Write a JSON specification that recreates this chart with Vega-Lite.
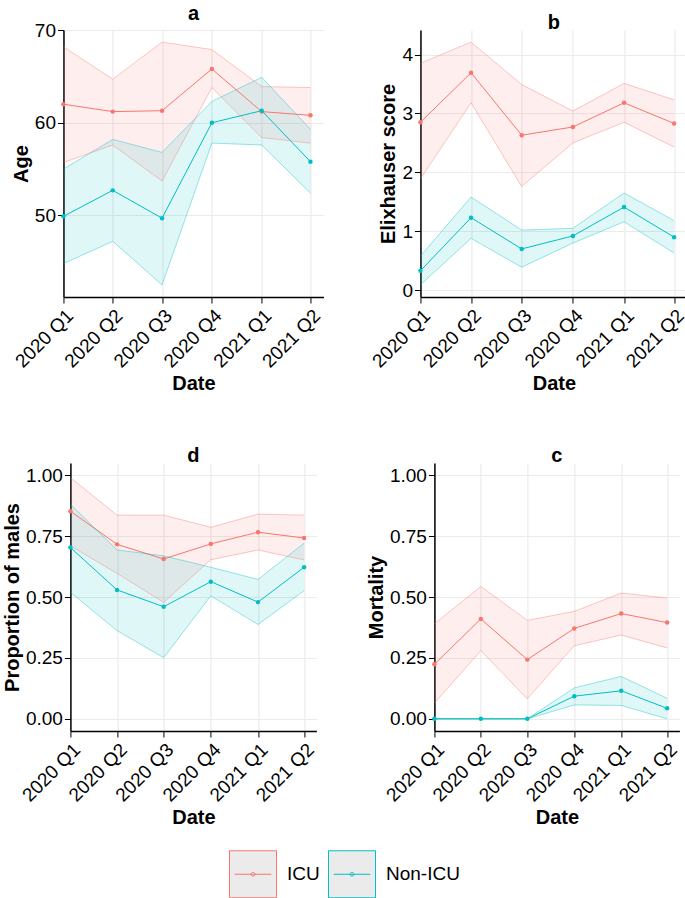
{
  "$schema": "https://vega.github.io/schema/vega-lite/v6.json",
  "padding": {"left": 2, "top": 4, "right": 0, "bottom": 1},
  "background": "white",
  "data": {"values": [
    {"panel":"a","group":"ICU","date":"2020/01/01","mean":62.0,"lower":55.7,"upper":68.2},
    {"panel":"a","group":"ICU","date":"2020/04/01","mean":61.2,"lower":57.6,"upper":64.7},
    {"panel":"a","group":"ICU","date":"2020/07/01","mean":61.3,"lower":53.7,"upper":68.7},
    {"panel":"a","group":"ICU","date":"2020/10/01","mean":65.8,"lower":63.8,"upper":67.9},
    {"panel":"a","group":"ICU","date":"2021/01/01","mean":61.2,"lower":58.4,"upper":63.9},
    {"panel":"a","group":"ICU","date":"2021/04/01","mean":60.8,"lower":57.8,"upper":63.8},
    {"panel":"a","group":"Non-ICU","date":"2020/01/01","mean":49.9,"lower":44.8,"upper":55.0},
    {"panel":"a","group":"Non-ICU","date":"2020/04/01","mean":52.7,"lower":47.2,"upper":58.2},
    {"panel":"a","group":"Non-ICU","date":"2020/07/01","mean":49.7,"lower":42.5,"upper":56.8},
    {"panel":"a","group":"Non-ICU","date":"2020/10/01","mean":60.0,"lower":57.8,"upper":62.3},
    {"panel":"a","group":"Non-ICU","date":"2021/01/01","mean":61.3,"lower":57.6,"upper":64.9},
    {"panel":"a","group":"Non-ICU","date":"2021/04/01","mean":55.8,"lower":52.4,"upper":59.3},
    {"panel":"b","group":"ICU","date":"2020/01/01","mean":2.85,"lower":1.89,"upper":3.85},
    {"panel":"b","group":"ICU","date":"2020/04/01","mean":3.69,"lower":3.18,"upper":4.21},
    {"panel":"b","group":"ICU","date":"2020/07/01","mean":2.63,"lower":1.76,"upper":3.49},
    {"panel":"b","group":"ICU","date":"2020/10/01","mean":2.77,"lower":2.50,"upper":3.04},
    {"panel":"b","group":"ICU","date":"2021/01/01","mean":3.18,"lower":2.85,"upper":3.51},
    {"panel":"b","group":"ICU","date":"2021/04/01","mean":2.83,"lower":2.43,"upper":3.23},
    {"panel":"b","group":"Non-ICU","date":"2020/01/01","mean":0.33,"lower":0.09,"upper":0.58},
    {"panel":"b","group":"Non-ICU","date":"2020/04/01","mean":1.23,"lower":0.88,"upper":1.58},
    {"panel":"b","group":"Non-ICU","date":"2020/07/01","mean":0.70,"lower":0.39,"upper":1.02},
    {"panel":"b","group":"Non-ICU","date":"2020/10/01","mean":0.92,"lower":0.80,"upper":1.05},
    {"panel":"b","group":"Non-ICU","date":"2021/01/01","mean":1.41,"lower":1.16,"upper":1.65},
    {"panel":"b","group":"Non-ICU","date":"2021/04/01","mean":0.90,"lower":0.63,"upper":1.18},
    {"panel":"d","group":"ICU","date":"2020/01/01","mean":0.852,"lower":0.71,"upper":0.99},
    {"panel":"d","group":"ICU","date":"2020/04/01","mean":0.716,"lower":0.597,"upper":0.836},
    {"panel":"d","group":"ICU","date":"2020/07/01","mean":0.656,"lower":0.478,"upper":0.836},
    {"panel":"d","group":"ICU","date":"2020/10/01","mean":0.718,"lower":0.653,"upper":0.786},
    {"panel":"d","group":"ICU","date":"2021/01/01","mean":0.766,"lower":0.693,"upper":0.84},
    {"panel":"d","group":"ICU","date":"2021/04/01","mean":0.742,"lower":0.652,"upper":0.836},
    {"panel":"d","group":"Non-ICU","date":"2020/01/01","mean":0.703,"lower":0.519,"upper":0.881},
    {"panel":"d","group":"Non-ICU","date":"2020/04/01","mean":0.529,"lower":0.362,"upper":0.693},
    {"panel":"d","group":"Non-ICU","date":"2020/07/01","mean":0.46,"lower":0.251,"upper":0.669},
    {"panel":"d","group":"Non-ICU","date":"2020/10/01","mean":0.563,"lower":0.505,"upper":0.622},
    {"panel":"d","group":"Non-ICU","date":"2021/01/01","mean":0.479,"lower":0.387,"upper":0.572},
    {"panel":"d","group":"Non-ICU","date":"2021/04/01","mean":0.622,"lower":0.526,"upper":0.721},
    {"panel":"c","group":"ICU","date":"2020/01/01","mean":0.224,"lower":0.064,"upper":0.39},
    {"panel":"c","group":"ICU","date":"2020/04/01","mean":0.41,"lower":0.28,"upper":0.543},
    {"panel":"c","group":"ICU","date":"2020/07/01","mean":0.243,"lower":0.082,"upper":0.404},
    {"panel":"c","group":"ICU","date":"2020/10/01","mean":0.371,"lower":0.30,"upper":0.441},
    {"panel":"c","group":"ICU","date":"2021/01/01","mean":0.432,"lower":0.344,"upper":0.516},
    {"panel":"c","group":"ICU","date":"2021/04/01","mean":0.395,"lower":0.291,"upper":0.496},
    {"panel":"c","group":"Non-ICU","date":"2020/01/01","mean":0.0,"lower":0.0,"upper":0.0},
    {"panel":"c","group":"Non-ICU","date":"2020/04/01","mean":0.0,"lower":0.0,"upper":0.0},
    {"panel":"c","group":"Non-ICU","date":"2020/07/01","mean":0.0,"lower":0.0,"upper":0.0},
    {"panel":"c","group":"Non-ICU","date":"2020/10/01","mean":0.093,"lower":0.057,"upper":0.127},
    {"panel":"c","group":"Non-ICU","date":"2021/01/01","mean":0.115,"lower":0.055,"upper":0.174},
    {"panel":"c","group":"Non-ICU","date":"2021/04/01","mean":0.043,"lower":0.0,"upper":0.084}
  ]},
  "vconcat": [
    {"hconcat": [
      {
        "width": 260, "height": 267,
        "title": "a",
        "transform": [{"filter": "datum.panel === 'a'"}],
        "encoding": {"x": {"field": "date", "type": "temporal", "title": "Date",
          "scale": {"domain": [{"year":2020,"month":1,"date":1},{"year":2021,"month":4,"date":25}]},
          "axis": {"values": [{"year":2020,"month":1,"date":1},{"year":2020,"month":4,"date":1},{"year":2020,"month":7,"date":1},{"year":2020,"month":10,"date":1},{"year":2021,"month":1,"date":1},{"year":2021,"month":4,"date":1}], "labelExpr": "timeFormat(datum.value, '%Y') + ' Q' + quarter(datum.value)"}}},
        "layer": [
          {"mark": {"type": "area", "fillOpacity": 0.12},
           "encoding": {"y": {"field": "lower", "type": "quantitative", "title": "Age", "scale": {"domain": [41.19, 70.01], "nice": false, "zero": false}, "axis": {"values": [50, 60, 70]}},
             "y2": {"field": "upper"},
             "fill": {"field": "group", "type": "nominal", "scale": {"domain": ["Non-ICU", "ICU"], "range": ["#00BFC4", "#F8766D"]}, "legend": null}}},
          {"mark": {"type": "line", "strokeWidth": 1},
           "encoding": {"y": {"field": "mean", "type": "quantitative", "title": "Age"},
             "stroke": {"field": "group", "type": "nominal", "scale": {"domain": ["ICU", "Non-ICU"], "range": ["#F8766D", "#00BFC4"]},
               "legend": {"title": null, "symbolType": "M-1,-1L1,-1L1,1L-1,1Z M-0.78,0L0.78,0 M0.08,0A0.08,0.08,0,1,1,-0.08,0A0.08,0.08,0,1,1,0.08,0", "symbolFillColor": "#ebebeb", "symbolSize": 2209, "symbolStrokeWidth": 1}}}},
          {"mark": {"type": "line", "strokeWidth": 0.8, "strokeOpacity": 0.5},
           "encoding": {"y": {"field": "upper", "type": "quantitative", "title": "Age"}, "stroke": {"field": "group", "type": "nominal"}}},
          {"mark": {"type": "line", "strokeWidth": 0.8, "strokeOpacity": 0.5},
           "encoding": {"y": {"field": "lower", "type": "quantitative", "title": "Age"}, "stroke": {"field": "group", "type": "nominal"}}},
          {"mark": {"type": "point", "filled": true, "size": 20, "opacity": 1},
           "encoding": {"y": {"field": "mean", "type": "quantitative", "title": "Age"}, "fill": {"field": "group", "type": "nominal", "legend": null}}}
        ]
      },
      {
        "width": 267, "height": 267,
        "title": "b",
        "transform": [{"filter": "datum.panel === 'b'"}],
        "encoding": {"x": {"field": "date", "type": "temporal", "title": "Date",
          "scale": {"domain": [{"year":2020,"month":1,"date":1},{"year":2021,"month":4,"date":25}]},
          "axis": {"values": [{"year":2020,"month":1,"date":1},{"year":2020,"month":4,"date":1},{"year":2020,"month":7,"date":1},{"year":2020,"month":10,"date":1},{"year":2021,"month":1,"date":1},{"year":2021,"month":4,"date":1}], "labelExpr": "timeFormat(datum.value, '%Y') + ' Q' + quarter(datum.value)"}}},
        "layer": [
          {"mark": {"type": "area", "fillOpacity": 0.12},
           "encoding": {"y": {"field": "lower", "type": "quantitative", "title": "Elixhauser score", "scale": {"domain": [-0.116, 4.416], "nice": false, "zero": false}, "axis": {"values": [0, 1, 2, 3, 4], "format": "d"}},
             "y2": {"field": "upper"},
             "fill": {"field": "group", "type": "nominal", "legend": null}}},
          {"mark": {"type": "line", "strokeWidth": 1},
           "encoding": {"y": {"field": "mean", "type": "quantitative", "title": "Elixhauser score"}, "stroke": {"field": "group", "type": "nominal"}}},
          {"mark": {"type": "line", "strokeWidth": 0.8, "strokeOpacity": 0.5},
           "encoding": {"y": {"field": "upper", "type": "quantitative", "title": "Elixhauser score"}, "stroke": {"field": "group", "type": "nominal"}}},
          {"mark": {"type": "line", "strokeWidth": 0.8, "strokeOpacity": 0.5},
           "encoding": {"y": {"field": "lower", "type": "quantitative", "title": "Elixhauser score"}, "stroke": {"field": "group", "type": "nominal"}}},
          {"mark": {"type": "point", "filled": true, "size": 20, "opacity": 1},
           "encoding": {"y": {"field": "mean", "type": "quantitative", "title": "Elixhauser score"}, "fill": {"field": "group", "type": "nominal", "legend": null}}}
        ]
      }
    ], "spacing": 44},
    {"hconcat": [
      {
        "width": 246, "height": 268,
        "title": "d",
        "transform": [{"filter": "datum.panel === 'd'"}],
        "encoding": {"x": {"field": "date", "type": "temporal", "title": "Date",
          "scale": {"domain": [{"year":2020,"month":1,"date":1},{"year":2021,"month":4,"date":25}]},
          "axis": {"values": [{"year":2020,"month":1,"date":1},{"year":2020,"month":4,"date":1},{"year":2020,"month":7,"date":1},{"year":2020,"month":10,"date":1},{"year":2021,"month":1,"date":1},{"year":2021,"month":4,"date":1}], "labelExpr": "timeFormat(datum.value, '%Y') + ' Q' + quarter(datum.value)"}}},
        "layer": [
          {"mark": {"type": "area", "fillOpacity": 0.12},
           "encoding": {"y": {"field": "lower", "type": "quantitative", "title": "Proportion of males", "scale": {"domain": [-0.05, 1.05], "nice": false, "zero": false}, "axis": {"values": [0, 0.25, 0.5, 0.75, 1], "format": ".2f"}},
             "y2": {"field": "upper"},
             "fill": {"field": "group", "type": "nominal", "legend": null}}},
          {"mark": {"type": "line", "strokeWidth": 1},
           "encoding": {"y": {"field": "mean", "type": "quantitative", "title": "Proportion of males"}, "stroke": {"field": "group", "type": "nominal"}}},
          {"mark": {"type": "line", "strokeWidth": 0.8, "strokeOpacity": 0.5},
           "encoding": {"y": {"field": "upper", "type": "quantitative", "title": "Proportion of males"}, "stroke": {"field": "group", "type": "nominal"}}},
          {"mark": {"type": "line", "strokeWidth": 0.8, "strokeOpacity": 0.5},
           "encoding": {"y": {"field": "lower", "type": "quantitative", "title": "Proportion of males"}, "stroke": {"field": "group", "type": "nominal"}}},
          {"mark": {"type": "point", "filled": true, "size": 20, "opacity": 1},
           "encoding": {"y": {"field": "mean", "type": "quantitative", "title": "Proportion of males"}, "fill": {"field": "group", "type": "nominal", "legend": null}}}
        ]
      },
      {
        "width": 245, "height": 268,
        "title": "c",
        "transform": [{"filter": "datum.panel === 'c'"}],
        "encoding": {"x": {"field": "date", "type": "temporal", "title": "Date",
          "scale": {"domain": [{"year":2020,"month":1,"date":1},{"year":2021,"month":4,"date":25}]},
          "axis": {"values": [{"year":2020,"month":1,"date":1},{"year":2020,"month":4,"date":1},{"year":2020,"month":7,"date":1},{"year":2020,"month":10,"date":1},{"year":2021,"month":1,"date":1},{"year":2021,"month":4,"date":1}], "labelExpr": "timeFormat(datum.value, '%Y') + ' Q' + quarter(datum.value)"}}},
        "layer": [
          {"mark": {"type": "area", "fillOpacity": 0.12},
           "encoding": {"y": {"field": "lower", "type": "quantitative", "title": "Mortality", "scale": {"domain": [-0.05, 1.05], "nice": false, "zero": false}, "axis": {"values": [0, 0.25, 0.5, 0.75, 1], "format": ".2f"}},
             "y2": {"field": "upper"},
             "fill": {"field": "group", "type": "nominal", "legend": null}}},
          {"mark": {"type": "line", "strokeWidth": 1},
           "encoding": {"y": {"field": "mean", "type": "quantitative", "title": "Mortality"}, "stroke": {"field": "group", "type": "nominal"}}},
          {"mark": {"type": "line", "strokeWidth": 0.8, "strokeOpacity": 0.5},
           "encoding": {"y": {"field": "upper", "type": "quantitative", "title": "Mortality"}, "stroke": {"field": "group", "type": "nominal"}}},
          {"mark": {"type": "line", "strokeWidth": 0.8, "strokeOpacity": 0.5},
           "encoding": {"y": {"field": "lower", "type": "quantitative", "title": "Mortality"}, "stroke": {"field": "group", "type": "nominal"}}},
          {"mark": {"type": "point", "filled": true, "size": 20, "opacity": 1},
           "encoding": {"y": {"field": "mean", "type": "quantitative", "title": "Mortality"}, "fill": {"field": "group", "type": "nominal", "legend": null}}}
        ]
      }
    ], "spacing": 48}
  ],
  "center": true,
  "spacing": 52,
  "config": {
    "view": {"stroke": null},
    "font": "Liberation Sans",
    "title": {"font": "Liberation Sans", "fontSize": 20, "fontWeight": "bold", "color": "black", "anchor": "middle", "offset": -3},
    "axis": {"domainColor": "black", "domainWidth": 1.5, "tickColor": "black", "tickSize": 6, "tickWidth": 1, "gridColor": "#ebebeb", "gridWidth": 1.2,
      "labelFont": "Liberation Sans", "labelFontSize": 19, "labelColor": "black", "labelPadding": 2, "labelOverlap": false,
      "titleFont": "Liberation Sans", "titleFontSize": 20, "titleFontWeight": "bold", "titleColor": "black", "titlePadding": 3},
    "axisX": {"labelAngle": -45, "labelAlign": "right", "labelBaseline": "top", "labelPadding": 3, "titlePadding": 3},
    "legend": {"orient": "bottom", "direction": "horizontal", "labelFont": "Liberation Sans", "labelFontSize": 19, "labelColor": "black",
      "labelOffset": 10, "columnPadding": 6, "offset": 22,
      "layout": {"bottom": {"anchor": "middle"}}}
  }
}
